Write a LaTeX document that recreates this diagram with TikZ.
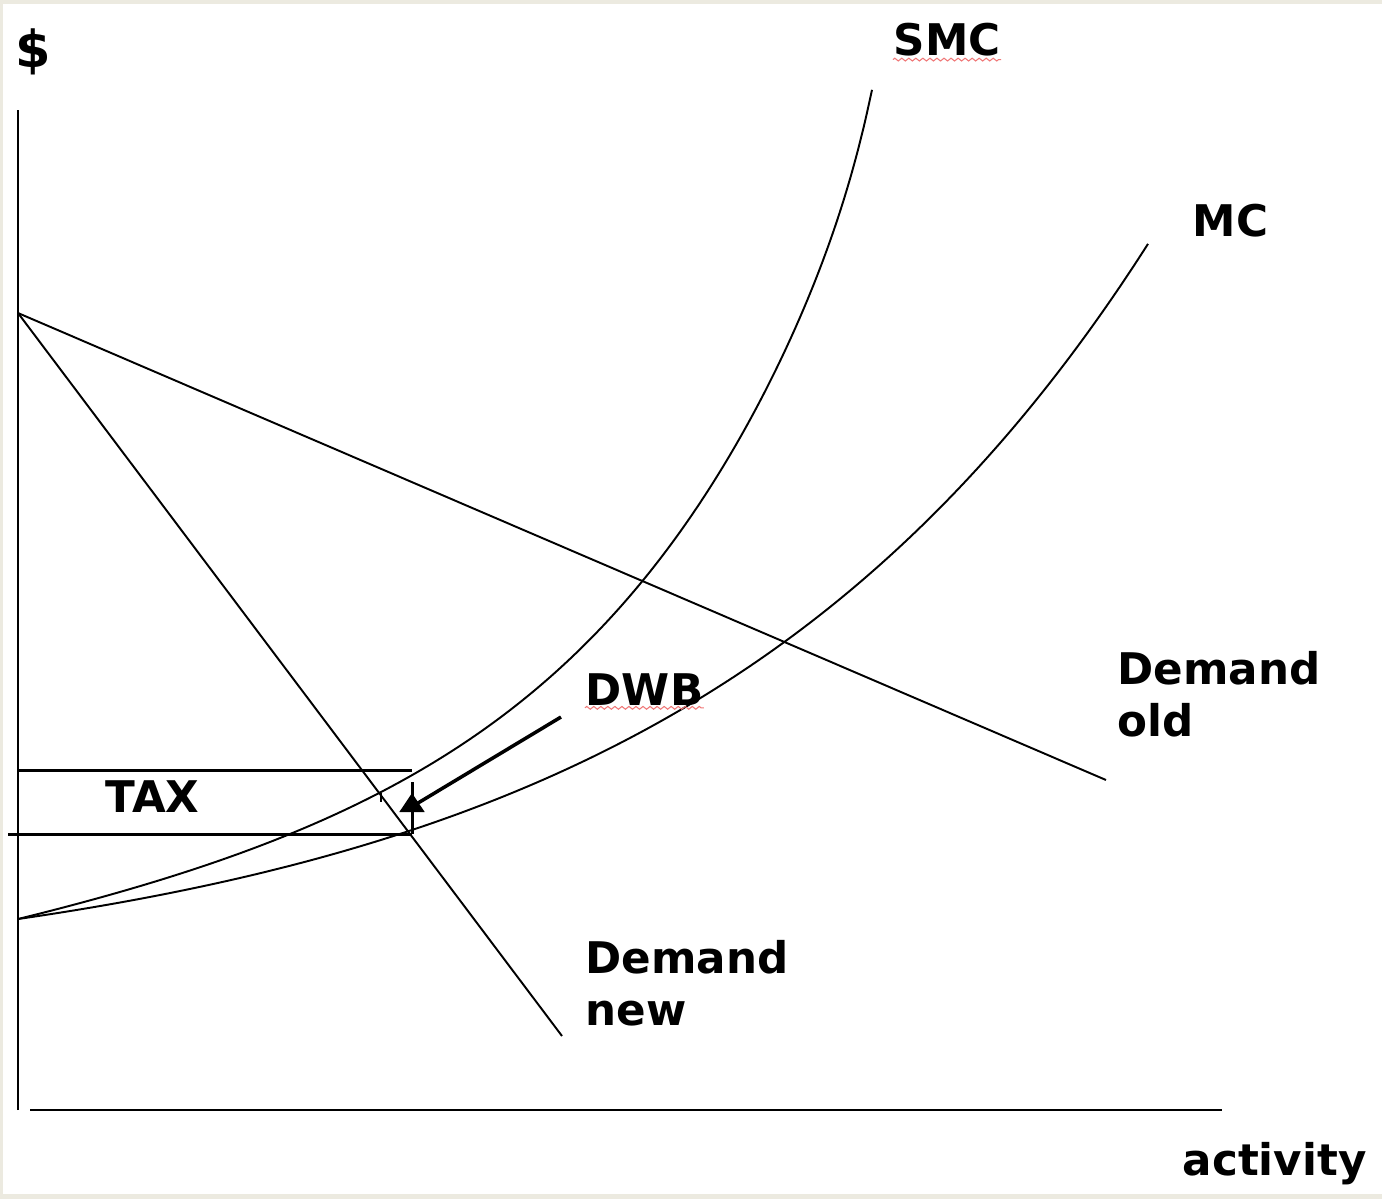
\documentclass[tikz,border=0pt]{standalone}
\usepackage{fontspec}
\setmainfont{DejaVu Sans}
\usetikzlibrary{arrows.meta}
\usetikzlibrary{decorations.pathmorphing}
\definecolor{framebeige}{RGB}{236,234,224}
\definecolor{spellred}{RGB}{240,120,120}

\begin{document}
\begin{tikzpicture}[x=0.01cm,y=-0.01cm,
        lbl/.style={font=\bfseries\fontsize{12.4}{14.8}\selectfont, inner sep=0pt, align=left},
        curve/.style={line width=0.55pt},
        taxline/.style={line width=0.85pt},
        squiggle/.style={spellred, line width=0.3pt, decorate, decoration={zigzag, segment length=2pt, amplitude=0.4pt}}]
        \fill[framebeige] (0,0) rectangle (1382,1199);
        \fill[white] (3,4) rectangle (1382,1194);

        % axes
        \coordinate (ytop) at (18,110);
        \coordinate (ybot) at (18,1110);
        \coordinate (xl) at (30,1110);
        \coordinate (xr) at (1222,1110);
        \draw[line width=0.7pt] (ybot) -- (ytop);
        \draw[line width=0.7pt] (xl) -- (xr);

        % demand curves
        \coordinate (choke) at (18,313);
        \coordinate (oldend) at (1106,780);
        \coordinate (newend) at (562,1036);
        \draw[curve] (choke) -- (oldend);
        \draw[curve] (choke) -- (newend);

        % cost curves
        \draw[curve, domain=0:854, samples=120, smooth] plot ({18+\x},
            {919-0.17*\x-18.2*(exp(0.0042*\x)-1)-47*exp(max(0.04*(\x-854),-9))});
        \draw[curve, domain=0:1130, samples=100, smooth] plot ({18+\x}, {919-68.9*(exp(0.0021*\x)-1)});

        % tax block
        \coordinate (E) at (412,834);
        \coordinate (taxtop) at (412,770);
        \coordinate (taxtopl) at (18,770);
        \coordinate (taxbotl) at (8,834);
        \coordinate (tipA) at (412,793);
        \coordinate (tipTop) at (412,782);
        \draw[taxline] (taxtopl) -- (taxtop);
        \draw[taxline] (taxbotl) -- (E);
        \draw[taxline] (E) -- (tipTop);
        \draw[taxline, -{Triangle[width=7pt, length=5.4pt]}] (E) -- (tipA);
        \coordinate (markA) at (381,793);
        \coordinate (markB) at (381,802);
        \draw[line width=0.6pt] (markA) -- (markB);

        % DWB pointer
        \coordinate (dwbS) at (561,717);
        \coordinate (dwbE) at (418,803);
        \draw[line width=1pt] (dwbS) -- (dwbE);

        % labels
        \node[lbl, font=\bfseries\fontsize{14.5}{16}\selectfont] (dollar) at (33,52) {\$};
        \node[lbl, anchor=base west] (smc) at (893,55) {SMC};
        \node[lbl, anchor=base west] (mc) at (1192,236) {MC};
        \node[lbl, anchor=north west] (dold) at (1117,651) {Demand\\old};
        \node[lbl, anchor=base west] (dwb) at (585,705) {DWB};
        \node[lbl, anchor=base west] (tax) at (105,812) {TAX};
        \node[lbl, anchor=north west] (dnew) at (585,940) {Demand\\new};
        \node[lbl, anchor=base west] (act) at (1182,1175) {activity};

        \draw[squiggle] ([yshift=-1.3pt]smc.base west) -- ([yshift=-1.3pt]smc.base east);
        \draw[squiggle] ([yshift=-0.8pt]dwb.base west) -- ([yshift=-0.8pt]dwb.base east);
\end{tikzpicture}
\end{document}
